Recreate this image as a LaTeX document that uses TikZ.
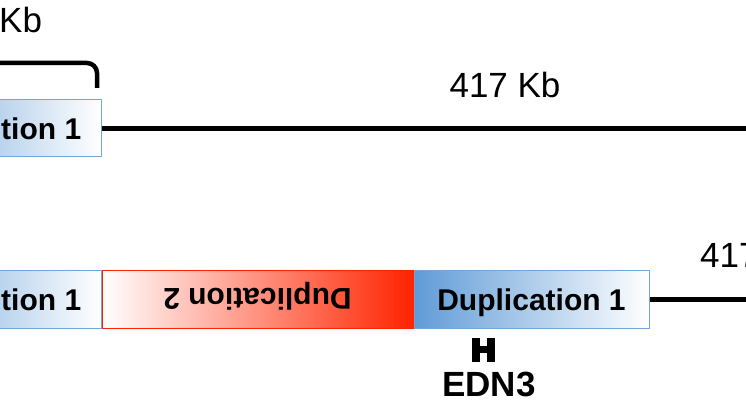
\documentclass[tikz,border=0pt]{standalone}
\usepackage{fontspec}
\setmainfont{Liberation Sans}
\usetikzlibrary{positioning}
\definecolor{dupblue}{RGB}{95,155,215}
\definecolor{dupedge}{RGB}{115,165,220}
\definecolor{dupred}{RGB}{255,35,0}
\begin{document}
\begin{tikzpicture}[x=1pt, y=-1pt,
  dupone/.style={draw=dupedge, line width=1pt, left color=dupblue, right color=white,
    minimum width=235pt, minimum height=57pt, inner sep=0pt},
  duptwo/.style={draw=dupred, line width=1pt, left color=white, right color=dupred,
    minimum width=311pt, minimum height=57pt, inner sep=0pt},
  duptext/.style={font=\fontsize{30}{33}\selectfont\bfseries, inner sep=0pt, text depth=0pt},
  kbtext/.style={font=\fontsize{35}{40}\selectfont, inner sep=0pt, text depth=0pt},
  chrom/.style={line width=4.5pt}]
  \useasboundingbox (0,0) rectangle (746,419);

  % Upper chromosome
  \node[dupone] (topdup) at (-16.5,128.5) {};
  \node[duptext, anchor=west] (toplbl) at (topdup.center -| 1,0) {tion 1};
  \coordinate (topend) at (752,128.5);
  \draw[chrom] (topdup.east) -- (topend); % 417 Kb stretch
  \node[kbtext] (topkb) at (505,85) {417 Kb};
  \node[kbtext, anchor=west] (leftkb) at (-1,20) {Kb};
  \draw[line width=4.5pt, rounded corners=10pt] (-5,63) -- (97,63) -- (97,88); % bracket

  % Lower chromosome
  \node[dupone] (botdup) at (-16.5,299.5) {};
  \node[duptext, anchor=west] (botlbl) at (botdup.center -| 1,0) {tion 1};
  \node[duptwo, right=0pt of botdup] (dupinv) {};
  \node[duptext, rotate=180] (invlbl) at (dupinv) {Duplication 2}; % inverted copy
  \node[dupone, right=0pt of dupinv] (dupnew) {};
  \node[duptext] (newlbl) at (dupnew) {Duplication 1};
  \coordinate (botend) at (752,299.5);
  \draw[chrom] (dupnew.east) -- (botend);
  \node[kbtext, anchor=west] (botkb) at (700,255) {417};

  % EDN3 position
  \fill (472,338) rectangle (480,362);
  \fill (487,338) rectangle (495,362);
  \fill (480,346) rectangle (487,353);
  \node[kbtext, font=\fontsize{35}{40}\selectfont\bfseries] (edn) at (489,384.5) {EDN3};
\end{tikzpicture}
\end{document}
